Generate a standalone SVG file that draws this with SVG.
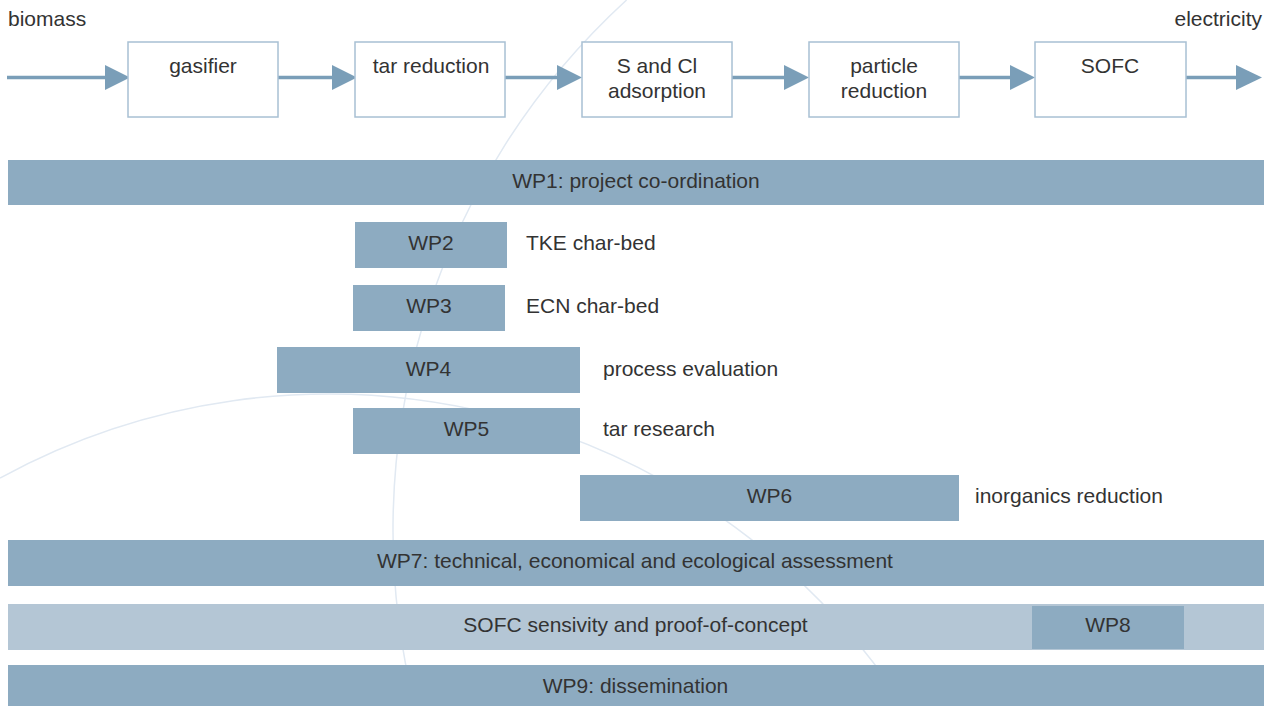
<svg xmlns="http://www.w3.org/2000/svg" width="1272" height="706" viewBox="0 0 1272 706">
<defs>
<style>
text{font-family:"Liberation Sans",Arial,sans-serif;font-size:21px;fill:#333}
.c{text-anchor:middle}
.bar{fill:#8DABC1}
.light{fill:#B4C6D5}
.box{fill:#fff;stroke:#A8C0D3;stroke-width:1.5}
.arc{fill:none;stroke:#E1E9F2;stroke-width:1.5}
.flow{stroke:#7A9EB8;stroke-width:3.5;fill:none}
.head{fill:#7A9EB8}
</style>
</defs>
<rect width="1272" height="706" fill="#fff"/>
<g id="background">
<path class="arc" d="M626.6 0 A718 718 0 0 0 414.9 706"/>
<path class="arc" d="M0 478 A686 686 0 0 1 904 706"/>
</g>
<g id="connectors">
<line class="flow" x1="7" y1="77.5" x2="107" y2="77.5"/>
<polygon class="head" points="105,65 130,77.5 105,90"/>
<line class="flow" x1="278" y1="77.5" x2="334" y2="77.5"/>
<polygon class="head" points="332,65 357,77.5 332,90"/>
<line class="flow" x1="505" y1="77.5" x2="559" y2="77.5"/>
<polygon class="head" points="557,65 582,77.5 557,90"/>
<line class="flow" x1="732" y1="77.5" x2="786" y2="77.5"/>
<polygon class="head" points="784,65 809,77.5 784,90"/>
<line class="flow" x1="959" y1="77.5" x2="1012" y2="77.5"/>
<polygon class="head" points="1010,65 1035,77.5 1010,90"/>
<line class="flow" x1="1186" y1="77.5" x2="1238" y2="77.5"/>
<polygon class="head" points="1236,65 1262,77.5 1236,90"/>
</g>
<g id="biomass"><text x="8" y="26">biomass</text></g>
<g id="electricity"><text x="1262" y="26" text-anchor="end">electricity</text></g>
<g id="gasifier"><rect class="box" x="128" y="42" width="150" height="75"/><text class="c" x="203" y="73">gasifier</text></g>
<g id="tar-reduction"><rect class="box" x="355" y="42" width="150" height="75"/><text class="c" x="431" y="73">tar reduction</text></g>
<g id="s-cl-adsorption"><rect class="box" x="582" y="42" width="150" height="75"/><text class="c" x="657" y="73">S and Cl</text><text class="c" x="657" y="98">adsorption</text></g>
<g id="particle-reduction"><rect class="box" x="809" y="42" width="150" height="75"/><text class="c" x="884" y="73">particle</text><text class="c" x="884" y="98">reduction</text></g>
<g id="sofc"><rect class="box" x="1035" y="42" width="151" height="75"/><text class="c" x="1110" y="73">SOFC</text></g>
<g id="wp1"><rect class="bar" x="8" y="160" width="1256" height="45"/><text class="c" x="636" y="188">WP1: project co-ordination</text></g>
<g id="wp2"><rect class="bar" x="355" y="222" width="152" height="46"/><text class="c" x="431" y="250">WP2</text><text x="526" y="250">TKE char-bed</text></g>
<g id="wp3"><rect class="bar" x="353" y="285" width="152" height="46"/><text class="c" x="429" y="313">WP3</text><text x="526" y="313">ECN char-bed</text></g>
<g id="wp4"><rect class="bar" x="277" y="347" width="303" height="46"/><text class="c" x="428.5" y="376">WP4</text><text x="603" y="376">process evaluation</text></g>
<g id="wp5"><rect class="bar" x="353" y="408" width="227" height="46"/><text class="c" x="466.5" y="436">WP5</text><text x="603" y="436">tar research</text></g>
<g id="wp6"><rect class="bar" x="580" y="475" width="379" height="46"/><text class="c" x="769.5" y="503">WP6</text><text x="975" y="503">inorganics reduction</text></g>
<g id="wp7"><rect class="bar" x="8" y="540" width="1256" height="46"/><text class="c" x="635" y="568">WP7: technical, economical and ecological assessment</text></g>
<g id="sofc-proof"><rect class="light" x="8" y="604" width="1256" height="46"/><text class="c" x="635.5" y="632">SOFC sensivity and proof-of-concept</text></g>
<g id="wp8"><rect class="bar" x="1032" y="606" width="152" height="43"/><text class="c" x="1108" y="632">WP8</text></g>
<g id="wp9"><rect class="bar" x="8" y="665" width="1256" height="41"/><text class="c" x="635.5" y="693">WP9: dissemination</text></g>
</svg>
